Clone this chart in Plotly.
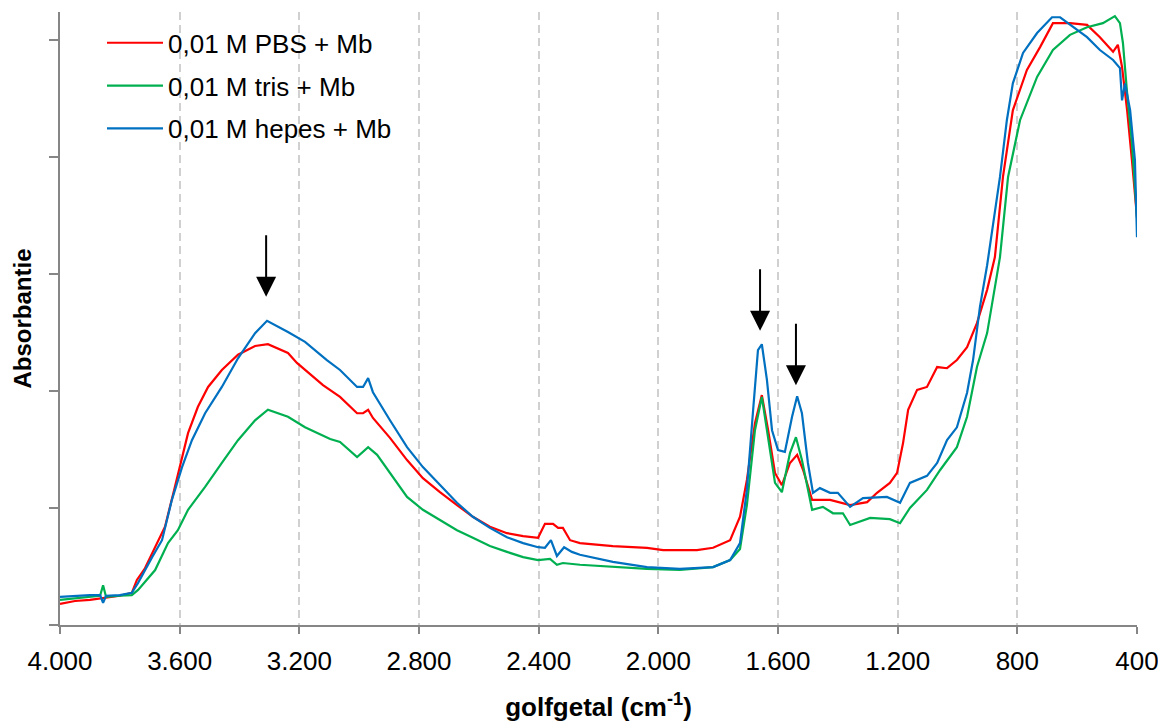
import plotly.graph_objects as go

# ---------------- data (wavenumber in cm-1, absorbance arbitrary units) ----------------
wn_pbs = [4000, 3950, 3900, 3850, 3800, 3760, 3743, 3716, 3692, 3672, 3649, 3616, 3592, 3572,
          3539, 3505, 3459, 3405, 3348, 3305, 3238, 3208, 3121, 3064, 3007, 2987, 2970, 2954,
          2897, 2840, 2787, 2730, 2673, 2620, 2563, 2506, 2452, 2402, 2379, 2352, 2335, 2319,
          2295, 2262, 2152, 2038, 1984, 1871, 1817, 1760, 1727, 1704, 1677, 1654, 1633, 1610,
          1587, 1560, 1536, 1516, 1486, 1426, 1359, 1302, 1269, 1226, 1202, 1182, 1165, 1135,
          1102, 1068, 1035, 1002, 968, 935, 901, 875, 848, 815, 768, 724, 681, 624, 567, 524,
          480, 464, 450, 433, 417, 400]
abs_pbs = [0.036, 0.041, 0.043, 0.046, 0.050, 0.055, 0.077, 0.097, 0.123, 0.142, 0.168, 0.236,
           0.287, 0.328, 0.373, 0.407, 0.436, 0.462, 0.477, 0.480, 0.465, 0.448, 0.410, 0.390,
           0.362, 0.362, 0.368, 0.354, 0.320, 0.282, 0.251, 0.227, 0.205, 0.185, 0.168, 0.157,
           0.152, 0.149, 0.173, 0.173, 0.166, 0.166, 0.145, 0.140, 0.135, 0.132, 0.128, 0.128,
           0.132, 0.145, 0.185, 0.248, 0.345, 0.393, 0.333, 0.260, 0.239, 0.277, 0.291, 0.265,
           0.214, 0.214, 0.205, 0.210, 0.226, 0.243, 0.260, 0.311, 0.368, 0.402, 0.407, 0.441,
           0.439, 0.453, 0.475, 0.516, 0.573, 0.629, 0.766, 0.880, 0.949, 0.988, 1.029, 1.029,
           1.026, 1.005, 0.980, 0.992, 0.954, 0.880, 0.795, 0.697]

wn_tris = [4000, 3950, 3900, 3866, 3856, 3846, 3800, 3760, 3739, 3682, 3639, 3606, 3572, 3515,
           3459, 3405, 3348, 3305, 3238, 3181, 3097, 3064, 3007, 2970, 2940, 2897, 2840, 2787,
           2730, 2673, 2620, 2563, 2506, 2452, 2402, 2362, 2339, 2319, 2262, 2152, 2038, 1928,
           1817, 1760, 1727, 1704, 1677, 1654, 1633, 1610, 1587, 1560, 1540, 1520, 1486, 1450,
           1416, 1383, 1359, 1292, 1226, 1192, 1159, 1102, 1058, 1002, 968, 935, 901, 858, 831,
           791, 734, 681, 624, 567, 514, 474, 457, 447, 433, 417, 400]
abs_tris = [0.043, 0.046, 0.048, 0.050, 0.068, 0.048, 0.050, 0.051, 0.060, 0.094, 0.140, 0.162,
            0.197, 0.236, 0.277, 0.316, 0.350, 0.368, 0.356, 0.338, 0.318, 0.313, 0.287, 0.304,
            0.291, 0.260, 0.219, 0.197, 0.179, 0.162, 0.149, 0.135, 0.125, 0.116, 0.111, 0.113,
            0.103, 0.106, 0.103, 0.099, 0.096, 0.094, 0.099, 0.111, 0.130, 0.205, 0.333, 0.390,
            0.316, 0.243, 0.227, 0.294, 0.321, 0.282, 0.197, 0.202, 0.191, 0.191, 0.171, 0.183,
            0.181, 0.174, 0.200, 0.231, 0.265, 0.304, 0.356, 0.441, 0.499, 0.629, 0.766, 0.863,
            0.937, 0.983, 1.009, 1.022, 1.029, 1.041, 1.029, 0.995, 0.909, 0.824, 0.697]

wn_hepes = [4000, 3950, 3900, 3866, 3856, 3846, 3800, 3760, 3739, 3692, 3659, 3626, 3592, 3559,
            3515, 3459, 3405, 3348, 3308, 3238, 3181, 3108, 3064, 3007, 2987, 2970, 2954, 2897,
            2840, 2787, 2730, 2673, 2620, 2563, 2506, 2452, 2402, 2379, 2359, 2339, 2315, 2289,
            2262, 2152, 2038, 1928, 1817, 1760, 1727, 1704, 1684, 1667, 1654, 1637, 1620, 1600,
            1577, 1553, 1536, 1520, 1500, 1483, 1460, 1426, 1400, 1359, 1316, 1236, 1192, 1159,
            1102, 1068, 1035, 1002, 968, 948, 925, 901, 858, 835, 815, 781, 734, 684, 657, 624,
            567, 524, 480, 457, 450, 440, 423, 407, 400]
abs_hepes = [0.048, 0.050, 0.051, 0.051, 0.038, 0.050, 0.051, 0.055, 0.072, 0.116, 0.145, 0.214,
             0.270, 0.316, 0.362, 0.407, 0.456, 0.499, 0.520, 0.501, 0.484, 0.453, 0.436, 0.407,
             0.407, 0.422, 0.398, 0.350, 0.304, 0.270, 0.239, 0.209, 0.185, 0.166, 0.150, 0.140,
             0.133, 0.132, 0.145, 0.118, 0.133, 0.125, 0.120, 0.108, 0.099, 0.096, 0.099, 0.111,
             0.140, 0.231, 0.362, 0.470, 0.480, 0.419, 0.333, 0.299, 0.296, 0.356, 0.391, 0.362,
             0.277, 0.226, 0.234, 0.226, 0.226, 0.202, 0.217, 0.219, 0.209, 0.243, 0.255, 0.277,
             0.316, 0.338, 0.397, 0.453, 0.544, 0.615, 0.766, 0.863, 0.926, 0.978, 1.012, 1.039,
             1.039, 1.026, 1.005, 0.983, 0.966, 0.952, 0.897, 0.926, 0.880, 0.795, 0.663]

series_names = ["0,01 M PBS + Mb", "0,01 M tris + Mb", "0,01 M hepes + Mb"]
series_colors = ["#FF0000", "#00B050", "#0070C0"]

x_tickvals = [4000, 3600, 3200, 2800, 2400, 2000, 1600, 1200, 800, 400]
x_ticktext = ["4.000", "3.600", "3.200", "2.800", "2.400", "2.000", "1.600", "1.200", "800", "400"]
y_tickvals = [0, 0.2, 0.4, 0.6, 0.8, 1.0]

arrow_wn = [3311, 1660, 1540]
arrow_abs = [0.561, 0.503, 0.410]

FONT = "Liberation Sans, Arial, sans-serif"

fig = go.Figure()
for xs, ys, name, color in zip([wn_pbs, wn_tris, wn_hepes], [abs_pbs, abs_tris, abs_hepes],
                               series_names, series_colors):
    fig.add_trace(go.Scatter(x=xs, y=ys, mode="lines", name=name, legendgroup=name,
                             line=dict(color=color, width=2.2)))

for ax_, ay_ in zip(arrow_wn, arrow_abs):
    fig.add_annotation(x=ax_, y=ay_, xref="x", yref="y", text="", showarrow=True,
                       ax=0, ay=-63, arrowhead=2, arrowsize=2.0, arrowwidth=2,
                       arrowcolor="black", standoff=0)

# page body adds an 8px offset, so the figure is sized 8px smaller on each side
fig.update_layout(
    width=1158, height=714,
    margin=dict(l=52, r=29, t=4, b=97),
    paper_bgcolor="white", plot_bgcolor="white",
    font=dict(family=FONT, size=26, color="black"),
    showlegend=True,
    legend=dict(x=0.039, y=0.988, xanchor="left", yanchor="top",
                bgcolor="rgba(0,0,0,0)", font=dict(size=26), tracegroupgap=6,
                itemwidth=56),
    xaxis=dict(range=[4000, 400], tickvals=x_tickvals, ticktext=x_ticktext,
               automargin=False,
               showline=True, linecolor="#868686", linewidth=1.5,
               ticks="outside", ticklen=7, tickcolor="#868686", tickwidth=1.5,
               ticklabelstandoff=5,
               showgrid=True, gridcolor="#D0D0D0", gridwidth=1.5, griddash="8px,5px",
               zeroline=False, tickfont=dict(size=26),
               title=dict(text="<b>golfgetal (cm<sup>-1</sup>)</b>", font=dict(size=26),
                          standoff=23)),
    yaxis=dict(range=[0, 1.048], tickvals=y_tickvals, showticklabels=False,
               automargin=False,
               showline=True, linecolor="#868686", linewidth=1.5,
               ticks="outside", ticklen=9, tickcolor="#868686", tickwidth=1.5,
               showgrid=False, zeroline=False,
               title=dict(text="<b>Absorbantie</b>", font=dict(size=24), standoff=11)),
)

fig.write_html("out.html")
